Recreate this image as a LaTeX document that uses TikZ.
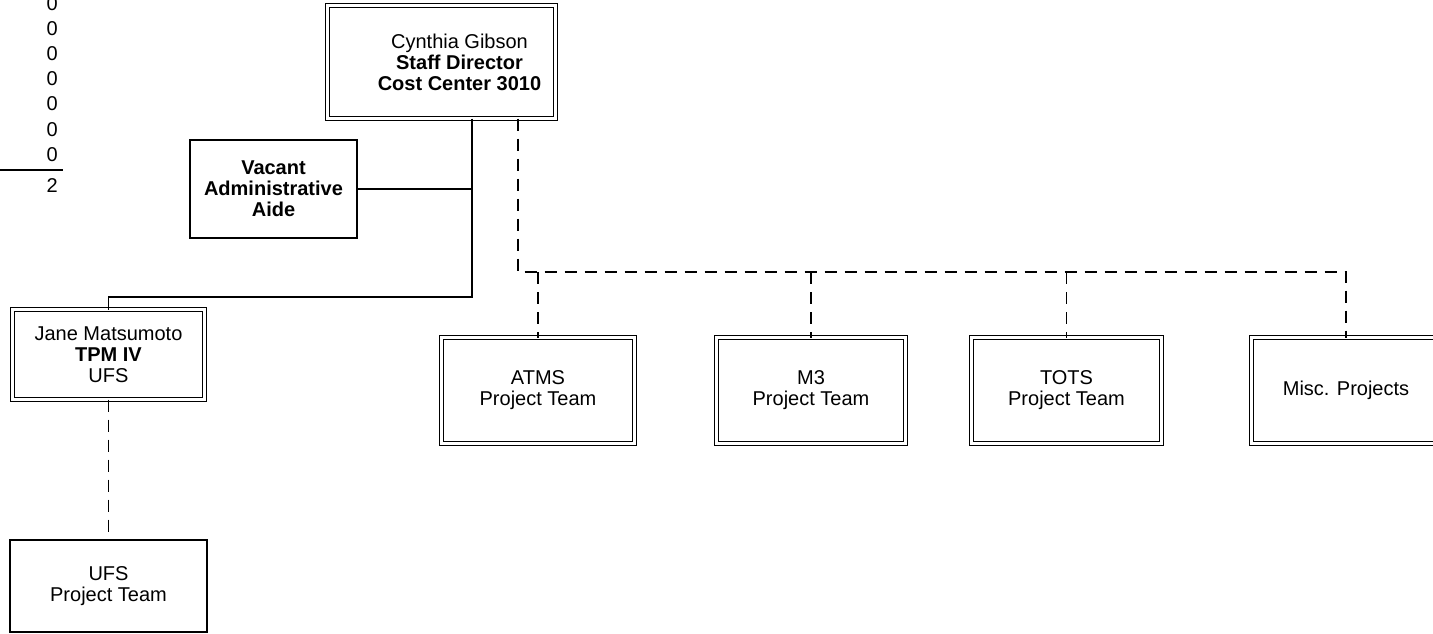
\documentclass[tikz,border=0pt]{standalone}
\usepackage{fontspec}
\setmainfont{Liberation Sans}
\begin{document}
\begin{tikzpicture}[x=1pt,y=-1pt,
  font=\fontsize{20}{21}\selectfont,
  box/.style={draw, line width=1.8pt, align=center, inner sep=0pt, outer sep=0pt},
  dbox/.style={box, double, double distance=2.6pt, line width=1.5pt},
  txt/.style={align=center, inner sep=0pt},
  link/.style={line width=1.7pt},
  dlink/.style={link, dash pattern=on 12pt off 8pt},
  num/.style={anchor=east, inner sep=0pt}]
\useasboundingbox (0,0) rectangle (1433,634);

% tally column
\foreach \y [count=\i] in {4,29,54,79,104,130,155} {
  \node[num] (n\i) at (58,\y) {0};
}
\node[num] (n8) at (58,186) {2};
\coordinate (tl) at (0,170);
\draw[line width=1.3pt] (tl) -- (tl -| n7.east) -- ++(5,0);

% boxes
\node[dbox, minimum width=228pt, minimum height=113pt] (cyn) at (441.5,62) {};
\node[txt] (cyntxt) at ([xshift=18pt]cyn.center)
  {Cynthia Gibson\\\textbf{Staff Director}\\\textbf{Cost Center 3010}};
\node[box, minimum width=167pt, minimum height=98pt] (vac) at (273.5,189)
  {\textbf{Vacant}\\\textbf{Administrative}\\\textbf{Aide}};
\node[dbox, minimum width=192pt, minimum height=90pt] (jane) at (108.5,354.5)
  {Jane Matsumoto\\\textbf{TPM IV}\\UFS};
\node[box, minimum width=197pt, minimum height=92pt] (ufs) at (108.5,586)
  {UFS\\Project Team};
\node[dbox, minimum width=193pt, minimum height=106pt] (atms) at (538,390.5)
  {ATMS\\Project Team};
\node[dbox, minimum width=189pt, minimum height=106pt] (m3) at (811,390.5)
  {M3\\Project Team};
\node[dbox, minimum width=190pt, minimum height=106pt] (tots) at (1066.5,390.5)
  {TOTS\\Project Team};
\node[dbox, minimum width=189pt, minimum height=106pt] (misc) at (1346,390.5)
  {Misc. Projects};

% solid reporting lines
\coordinate (sj) at (472,297);
\draw[link] (cyn.south -| sj) -- (sj) -| (jane.north);
\draw[link] (vac.east) -- (vac.east -| sj);

% dashed project lines
\coordinate (bus) at (518,272);
\draw[dlink] (cyn.south -| bus) -- (bus) -- (bus -| misc.north) -- (misc.north);
\draw[dlink] (bus -| atms.north) -- (atms.north);
\draw[dlink] (bus -| m3.north) -- (m3.north);
\draw[dlink] (bus -| tots.north) -- (tots.north);
\draw[dlink] (jane.south) -- (ufs.north);
\end{tikzpicture}
\end{document}
